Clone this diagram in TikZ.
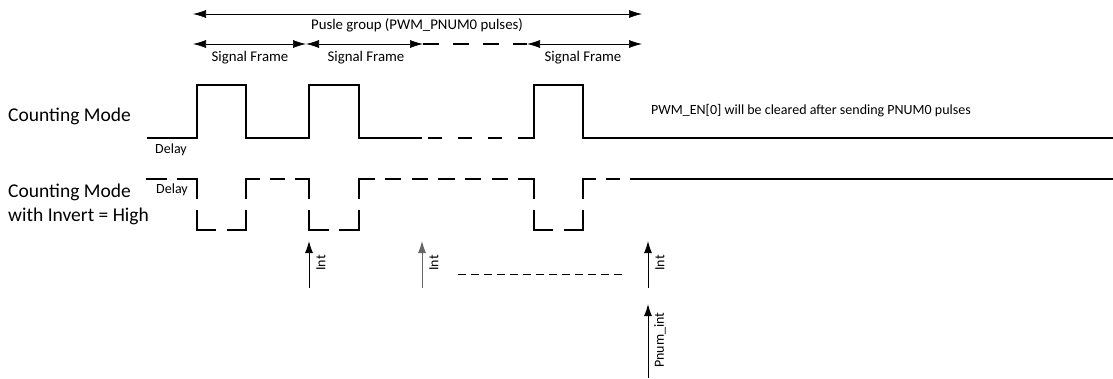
\documentclass[tikz,border=0pt]{standalone}
\usepackage{fontspec}
\setmainfont{Carlito}
\usetikzlibrary{arrows.meta}
\begin{document}
\begin{tikzpicture}[x=1pt,y=-1pt,
  wave/.style={line width=1.8pt},
  dwave/.style={line width=1.8pt,line cap=rect},
  dim/.style={line width=0.7pt,{Latex[length=13pt,width=8pt]}-{Latex[length=13pt,width=8pt]}},
  intarrow/.style={line width=1pt,-{Latex[length=12pt,width=8pt]}},
  lbl/.style={font=\fontsize{14.8}{17}\selectfont,inner sep=0pt},
  small/.style={font=\fontsize{14}{16}\selectfont,inner sep=0pt},
  big/.style={font=\fontsize{19.5}{24}\selectfont,inner sep=0pt,anchor=west,align=left}]
\useasboundingbox (0,0) rectangle (1113,378);
% top dimension arrows
\coordinate (g0) at (193,14); \coordinate (g1) at (642,14);
\draw[dim] (g0) -- (g1);
\node[lbl] (glab) at (417,25) {Pusle group (PWM\_PNUM0 pulses)};
\coordinate (f0) at (193,44); \coordinate (f1) at (306,44);
\coordinate (f2) at (423,44); \coordinate (f3) at (527,44);
\coordinate (f4) at (642,44);
\draw[dim] (f0) -- (f1);
\draw[dim] (f1) -- (f2);
\draw[line width=1.8pt,dash pattern=on 16pt off 14pt] (f2) -- (f3);
\draw[dim] (f3) -- (f4);
\node[lbl] (s1) at (250,58) {Signal Frame};
\node[lbl] (s2) at (366,58) {Signal Frame};
\node[lbl] (s3) at (583,58) {Signal Frame};
% labels
\node[big] (cm) at (8,116) {Counting Mode};
\node[big] (cmi) at (8,204) {Counting Mode\\with Invert = High};
\node[small] (d1) at (171,150) {Delay};
\node[small] (d2) at (172,190) {Delay};
\node[small,anchor=west] (en) at (651,111) {PWM\_EN[0] will be cleared after sending PNUM0 pulses};
% counting mode waveform
\draw[wave] (147,138) -- (197,138) -- (197,85) -- (246,85) -- (246,138) -- (309,138) -- (309,85) -- (359,85) -- (359,138) -- (422,138);
\draw[wave,dash pattern=on 14pt off 16pt] (428,138) -- (522,138);
\draw[wave] (518,138) -- (534,138) -- (534,85) -- (583,85) -- (583,138) -- (1113,138);
% inverted waveform (each segment dashed separately so corners carry a dash)
\foreach \a/\b/\c/\d in {147/179/197/179, 197/179/197/230, 197/230/246/230, 246/230/246/179,
  246/179/309/179, 309/179/309/230, 309/230/359/230, 359/230/359/179, 359/179/534/179,
  534/179/534/230, 534/230/583/230, 583/230/583/179, 583/179/643/179}{
  \pgfmathsetmacro\segL{abs(\c-\a)+abs(\d-\b)}
  \pgfmathsetmacro\segN{max(2,round((\segL+12)/27))}
  \pgfmathsetmacro\segOn{(\segL-(\segN-1)*12)/\segN}
  \draw[dwave,dash pattern=on \segOn pt off 12pt] (\a,\b) -- (\c,\d);
}
\draw[wave] (643,179) -- (1113,179);
% interrupt arrows
\coordinate (i1b) at (309,288); \coordinate (i1t) at (309,241);
\coordinate (i2b) at (422,288); \coordinate (i2t) at (422,241);
\coordinate (i3b) at (648,288); \coordinate (i3t) at (648,241);
\coordinate (pb) at (648,378); \coordinate (pt) at (648,304);
\draw[intarrow] (i1b) -- (i1t);
\draw[intarrow,black!60] (i2b) -- (i2t);
\draw[intarrow] (i3b) -- (i3t);
\draw[intarrow] (pb) -- (pt);
\node[small,rotate=90] (l1) at (321,263) {Int};
\node[small,rotate=90] (l2) at (434,263) {Int};
\node[small,rotate=90] (l3) at (660,263) {Int};
\node[small,rotate=90] (l4) at (660,340) {Pnum\_int};
\coordinate (dd0) at (458,274); \coordinate (dd1) at (624,274);
\draw[line width=0.8pt,dash pattern=on 8pt off 5pt] (dd0) -- (dd1);
\end{tikzpicture}
\end{document}
